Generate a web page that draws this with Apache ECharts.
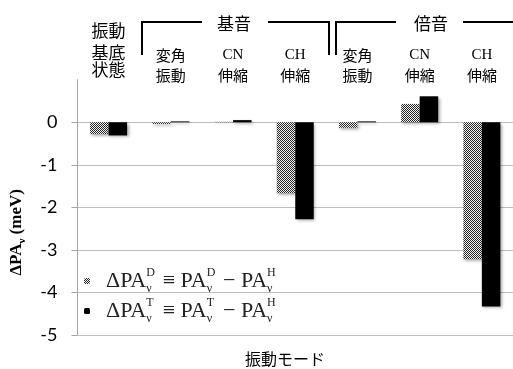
<!DOCTYPE html>
<html>
<head>
<meta charset="utf-8">
<script src="https://cdn.jsdelivr.net/npm/echarts@6/dist/echarts.min.js"></script>
<style>
html,body{margin:0;padding:0;background:#fff;}
#main{width:513px;height:369px;}
</style>
</head>
<body>
<div id="main"></div>
<script>
// 振動モード
var categories = ['ground', 'fundBend', 'fundCN', 'fundCH', 'overBend', 'overCN', 'overCH'];
var tickLabels = ['振動\n基底\n状態', '変角\n振動', 'CN\n伸縮', 'CH\n伸縮', '変角\n振動', 'CN\n伸縮', 'CH\n伸縮'];
// ΔPA (meV)
var deltaD = [-0.28, -0.04, 0.01, -1.67, -0.13, 0.43, -3.22];
var deltaT = [-0.31, 0.02, 0.05, -2.28, 0.02, 0.61, -4.33];
var seriesNames = ['D', 'T'];
var yMin = -5, yMax = 1, yStep = 1;

// dotted fill like the original
var pat = document.createElement('canvas');
pat.width = 2; pat.height = 2;
var ctx = pat.getContext('2d');
ctx.fillStyle = '#f2f2f2'; ctx.fillRect(0, 0, 2, 2);
ctx.fillStyle = '#262626'; ctx.fillRect(0, 0, 1, 1); ctx.fillRect(1, 1, 1, 1);

var dom = document.getElementById('main');
var myChart = echarts.init(dom);

var serif = 'Liberation Serif';
var cjk = 'Noto Sans CJK JP';

var barShadow = {
	shadowColor : 'rgba(0,0,0,0.35)',
	shadowBlur : 3,
	shadowOffsetX : 1.5,
	shadowOffsetY : 1.5
};

var option = {
	animation : false,
	grid : { left : 74, right : -11, top : 79.7, bottom : 34 },
	legend : {
		orient : 'vertical',
		left : 79,
		top : 262,
		itemWidth : 6,
		itemHeight : 6,
		itemGap : 2,
		data : seriesNames,
		formatter : function(n) {
			return '{m|ΔPA}{sup|' + n + '}{sub|ν}{m|  ≡ PA}{sup|' + n + '}{sub|ν}{m|  − PA}{sup|H}{sub|ν}';
		},
		textStyle : {
			fontFamily : serif,
			fontSize : 22,
			lineHeight : 28,
			color : '#222',
			padding : [0, 0, 0, 11],
			rich : {
				m : { fontFamily : serif, fontSize : 22, lineHeight : 28, color : '#222' },
				sup : { fontFamily : serif, fontSize : 12, lineHeight : 13, verticalAlign : 'top', width : 0, color : '#222' },
				sub : { fontFamily : serif, fontSize : 12, lineHeight : 13, verticalAlign : 'bottom', color : '#222' }
			}
		}
	},
	xAxis : {
		type : 'category',
		position : 'top',
		data : categories,
		axisLine : { show : false, onZero : false },
		axisTick : { show : false },
		axisLabel : {
			interval : 0,
			margin : -5,
			formatter : function(value, index) {
				var lines = tickLabels[index].split('\n');
				return lines.map(function(s, i) {
					var ascii = /^[A-Z]+$/.test(s);
					var key = ascii ? 'r' : (index === 0 ? 'g' : 'c');
					if (index === 0 && i === lines.length - 1) key = 'gl';
					return '{' + key + '|' + s + '}';
				}).join('\n');
			},
			rich : {
				g : { fontFamily : cjk, fontSize : 17, lineHeight : 21.5, color : '#000' },
				gl : { fontFamily : cjk, fontSize : 17, lineHeight : 21.5, color : '#000', padding : [0, 0, 9, 0] },
				c : { fontFamily : cjk, fontSize : 15, lineHeight : 19.5, color : '#000' },
				r : { fontFamily : serif, fontSize : 15, lineHeight : 19.5, color : '#000' }
			}
		}
	},
	yAxis : {
		type : 'value',
		min : yMin,
		max : yMax,
		interval : yStep,
		name : '{b|ΔPA}{s|ν}{b| (meV)}',
		nameLocation : 'middle',
		nameGap : 50,
		nameRotate : 90,
		nameTextStyle : {
			padding : [0, 50, 0, 0],
			rich : {
				b : { fontFamily : serif, fontWeight : 'bold', fontSize : 17, lineHeight : 22, color : '#000' },
				s : { fontFamily : serif, fontWeight : 'bold', fontSize : 11, lineHeight : 12, verticalAlign : 'bottom', color : '#000' }
			}
		},
		axisLine : { show : true, lineStyle : { color : '#a6a6a6', width : 1 } },
		axisTick : { show : true, length : 6, lineStyle : { color : '#a6a6a6' } },
		axisLabel : {
			margin : 20,
			showMaxLabel : false,
			fontFamily : 'Lato',
			fontSize : 18,
			color : '#000'
		},
		splitLine : {
			show : true,
			showMaxLine : false,
			lineStyle : { color : '#bdbdbd', width : 1 }
		}
	},
	series : [ {
		name : 'D',
		type : 'bar',
		barWidth : 18.5,
		barGap : '0%',
		data : deltaD,
		itemStyle : Object.assign({ color : { image : pat, repeat : 'repeat' } }, barShadow)
	}, {
		name : 'T',
		type : 'bar',
		barWidth : 18.5,
		barGap : '0%',
		data : deltaT,
		itemStyle : Object.assign({ color : '#000' }, barShadow)
	} ],
	graphic : [
		{ type : 'polyline', shape : { points : [[142, 55], [142, 22], [202, 22]] }, style : { stroke : '#000', lineWidth : 2, fill : null } },
		{ type : 'polyline', shape : { points : [[268, 22], [329, 22], [329, 55]] }, style : { stroke : '#000', lineWidth : 2, fill : null } },
		{ type : 'polyline', shape : { points : [[336, 55], [336, 22], [396, 22]] }, style : { stroke : '#000', lineWidth : 2, fill : null } },
		{ type : 'polyline', shape : { points : [[463, 22], [515, 22]] }, style : { stroke : '#000', lineWidth : 2, fill : null } },
		{ type : 'text', x : 234, y : 24, style : { text : '基音', font : '17px "Noto Sans CJK JP"', fill : '#000', align : 'center', verticalAlign : 'middle' } },
		{ type : 'text', x : 431, y : 24, style : { text : '倍音', font : '17px "Noto Sans CJK JP"', fill : '#000', align : 'center', verticalAlign : 'middle' } },
		{ type : 'text', x : 285, y : 359, style : { text : '振動モード', font : '16px "Noto Sans CJK JP"', fill : '#000', align : 'center', verticalAlign : 'middle' } }
	]
};

if (option && typeof option === "object") {
	myChart.setOption(option, true);
}
</script>
</body>
</html>
